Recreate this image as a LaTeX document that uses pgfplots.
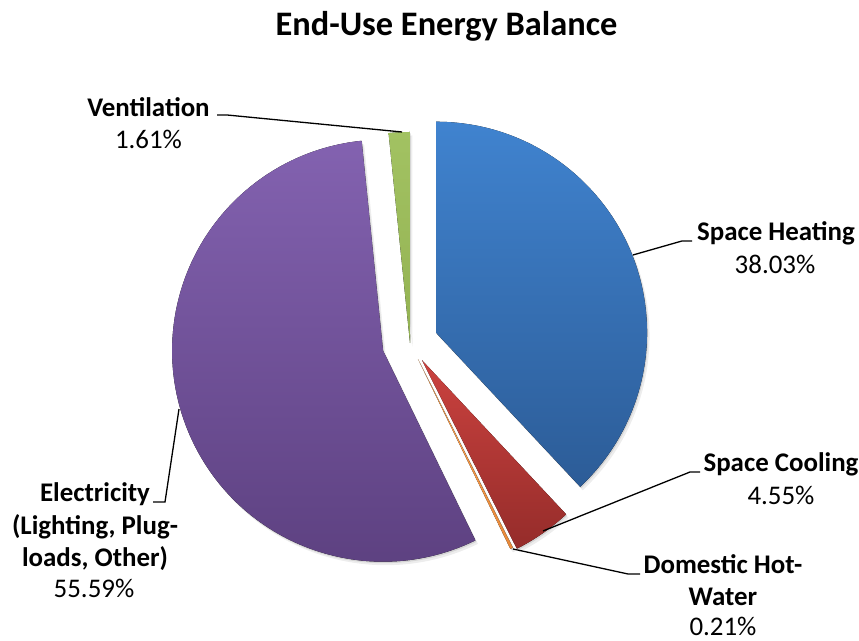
\documentclass[border=0pt]{standalone}
\usepackage{pgfplots}
\pgfplotsset{compat=1.18}
\usepackage{fontspec}
\setmainfont{Carlito}

\definecolor{heatT}{HTML}{4083CF}
\definecolor{heatB}{HTML}{2C5C97}
\definecolor{coolT}{HTML}{CB423F}
\definecolor{coolB}{HTML}{952C2A}
\definecolor{dhwT}{HTML}{F9A050}
\definecolor{dhwB}{HTML}{E8893A}
\definecolor{elecT}{HTML}{8362B0}
\definecolor{elecB}{HTML}{5B3F7E}
\definecolor{ventT}{HTML}{A2C262}
\definecolor{ventB}{HTML}{93B252}

% pie centre (bp), radius (bp)
\def\pcx{410}
\def\pcy{298}
\def\prad{211}

% #1 value (%), #2 explode (bp), #3 top colour, #4 bottom colour, #5 cumulative start (%)
\newcommand\slice[5]{%
  \pgfmathsetmacro\sa{90-3.6*#5}%
  \pgfmathsetmacro\ea{90-3.6*(#5+#1)}%
  \pgfmathsetmacro\ma{(\sa+\ea)/2}%
  \pgfmathsetmacro\ox{\pcx+#2*cos(\ma)}%
  \pgfmathsetmacro\oy{\pcy+#2*sin(\ma)}%
  \edef\doslice{%
    \noexpand\fill[black,opacity=0.10,xshift=1bp,yshift=-1.5bp] (axis cs:\ox,\oy) -- ++(\sa:\prad bp) arc[start angle=\sa,end angle=\ea,radius=\prad bp] -- cycle;
    \noexpand\fill[black,opacity=0.07,xshift=2.5bp,yshift=-3.5bp] (axis cs:\ox,\oy) -- ++(\sa:\prad bp) arc[start angle=\sa,end angle=\ea,radius=\prad bp] -- cycle;
    \noexpand\fill[top color=#3,bottom color=#4] (axis cs:\ox,\oy) -- ++(\sa:\prad bp) arc[start angle=\sa,end angle=\ea,radius=\prad bp] -- cycle;
  }%
  \doslice
}

\newcommand\lb{\fontsize{27}{32}\selectfont\bfseries}
\newcommand\lv{\fontsize{27}{32}\selectfont}

\begin{document}
\begin{tikzpicture}
\begin{axis}[x=1bp,y=1bp,xmin=0,xmax=859,ymin=0,ymax=641,hide axis,clip=false]
\coordinate (BL) at (rel axis cs:0,0);
\coordinate (TR) at (rel axis cs:1,1);
% slices: value, explode, colours, cumulative start
\slice{38.03}{28}{heatT}{heatB}{0}
\slice{4.55}{21}{coolT}{coolB}{38.03}
\slice{0.21}{18}{dhwT}{dhwB}{42.58}
\slice{55.59}{28}{elecT}{elecB}{42.79}
\slice{1.61}{0}{ventT}{ventB}{98.38}
% leader lines
\draw[black,line width=1.3bp] (axis cs:633,386) -- (axis cs:682,400) -- (axis cs:692,400);
\draw[black,line width=1.3bp] (axis cs:543,110) -- (axis cs:690,169) -- (axis cs:700,169);
\draw[black,line width=1.3bp] (axis cs:513,92) -- (axis cs:628,67) -- (axis cs:640,67);
\draw[black,line width=1.3bp] (axis cs:179,232) -- (axis cs:165,139) -- (axis cs:153,139);
\draw[black,line width=1.3bp] (axis cs:217,526) -- (axis cs:227,526) -- (axis cs:402,509);
% title
\node[anchor=base,inner sep=0] at (axis cs:446.5,605) {\fontsize{34.5}{40}\selectfont\bfseries End-Use Energy Balance};
% labels
\node[anchor=base,inner sep=0] at (axis cs:776,400) {\lb Space Heating};
\node[anchor=base,inner sep=0] at (axis cs:775,367) {\lv 38.03\%};
\node[anchor=base,inner sep=0] at (axis cs:781,169) {\lb Space Cooling};
\node[anchor=base,inner sep=0] at (axis cs:781,136) {\lv 4.55\%};
\node[anchor=base,inner sep=0] at (axis cs:723,67) {\lb Domestic Hot-};
\node[anchor=base,inner sep=0] at (axis cs:723,35) {\lb Water};
\node[anchor=base,inner sep=0] at (axis cs:723,5) {\lv 0.21\%};
\node[anchor=base,inner sep=0] at (axis cs:95,139) {\lb Electricity};
\node[anchor=base,inner sep=0] at (axis cs:95,106) {\lb (Lighting, Plug-};
\node[anchor=base,inner sep=0] at (axis cs:95,74) {\lb loads, Other)};
\node[anchor=base,inner sep=0] at (axis cs:94,43) {\lv 55.59\%};
\node[anchor=base,inner sep=0] at (axis cs:148.5,524) {\lb Ventilation};
\node[anchor=base,inner sep=0] at (axis cs:148.5,492) {\lv 1.61\%};
\end{axis}
\pgfresetboundingbox
\path[use as bounding box] (BL) rectangle (TR);
\end{tikzpicture}
\end{document}
